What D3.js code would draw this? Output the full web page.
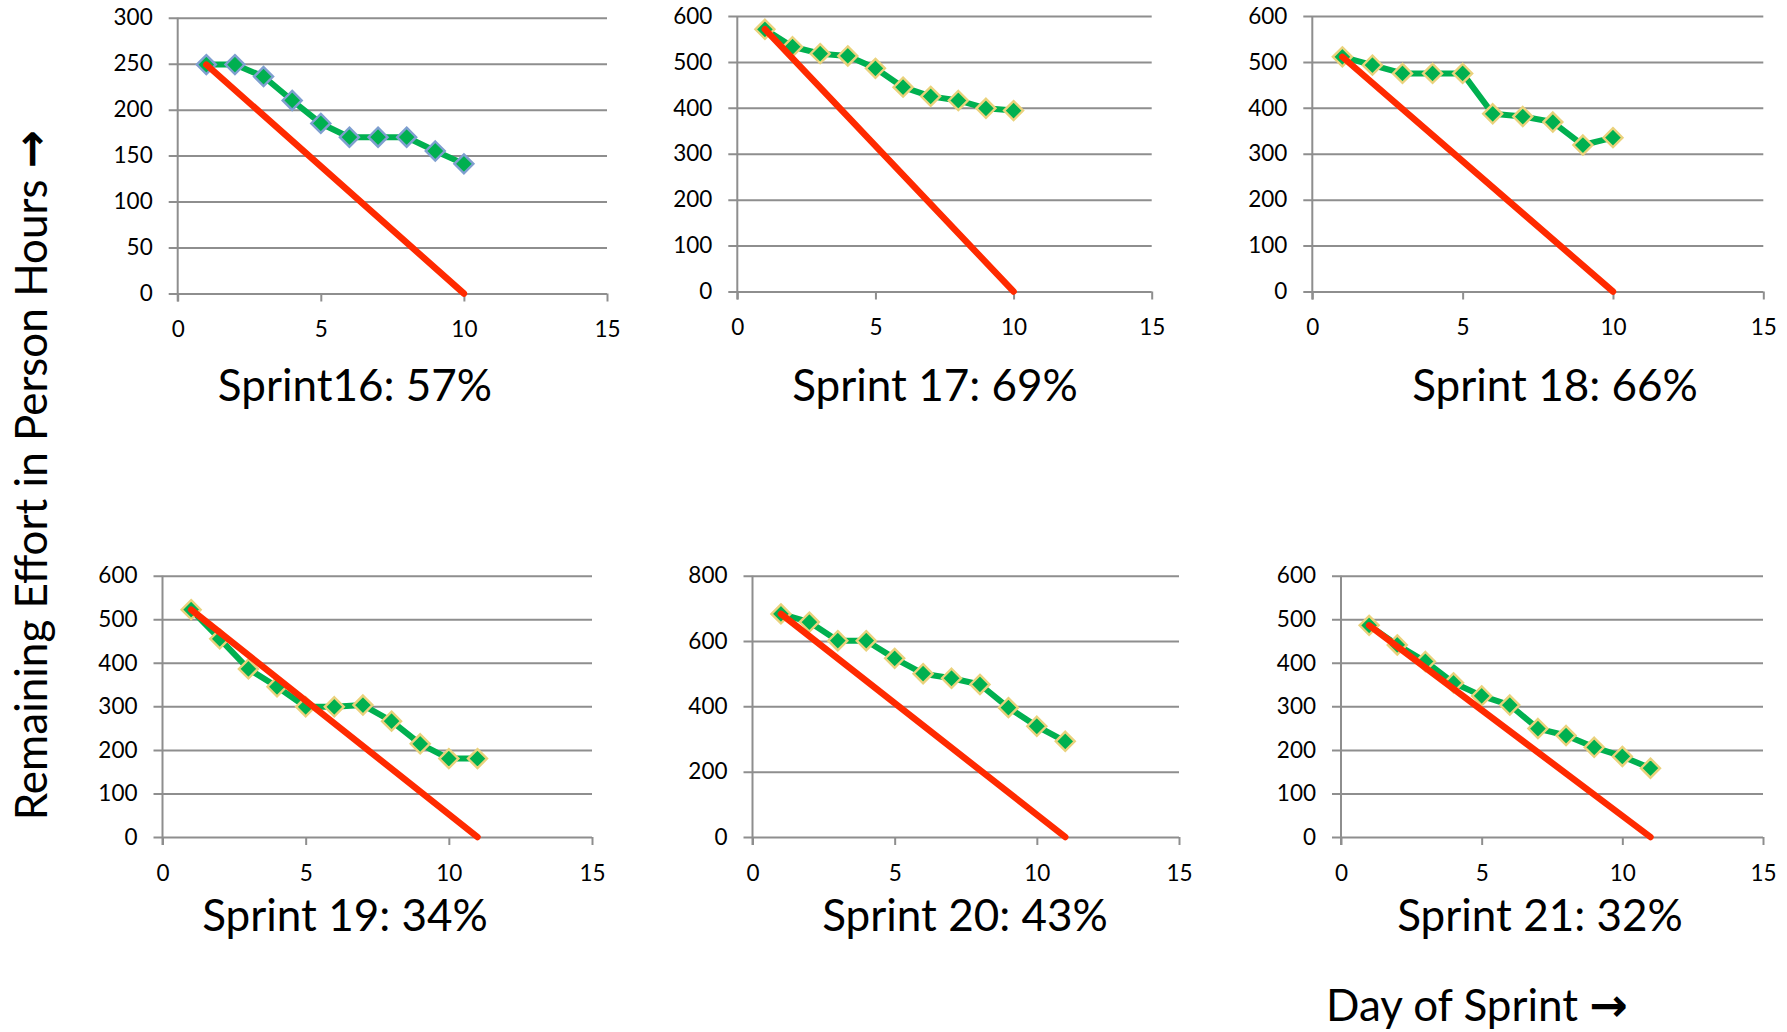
<!DOCTYPE html>
<html>
<head>
<meta charset="utf-8">
<script src="https://cdn.jsdelivr.net/npm/d3@7"></script>
<style>
  html, body { margin: 0; padding: 0; background: #ffffff; }
  svg { display: block; }
  text { font-family: Lato, "Open Sans", "Liberation Sans", sans-serif; fill: #000; }
</style>
</head>
<body>
<svg id="chart" width="1787" height="1032"></svg>
<script>
// ---- Sprint burndown data (remaining effort in person hours per day) ----
const sprintTitles = ["Sprint16: 57%", "Sprint 17: 69%", "Sprint 18: 66%",
                      "Sprint 19: 34%", "Sprint 20: 43%", "Sprint 21: 32%"];

const days10 = [1, 2, 3, 4, 5, 6, 7, 8, 9, 10];
const days11 = [1, 2, 3, 4, 5, 6, 7, 8, 9, 10, 11];

const actual16 = [249, 249, 236, 210, 185, 170, 170, 170, 155, 141];
const actual17 = [571, 533, 518, 513, 486, 445, 425, 416, 399, 394];
const actual18 = [511, 493, 475, 475, 475, 387, 381, 369, 319, 335];
const actual19 = [522, 455, 386, 345, 299, 299, 303, 266, 214, 180, 180];
const actual20 = [683, 658, 601, 601, 547, 500, 486, 467, 396, 339, 293];
const actual21 = [486, 441, 403, 354, 324, 303, 249, 233, 206, 185, 158];

// ideal burndown: straight line from the first day's effort down to zero
const idealDays10 = [1, 10];
const idealDays11 = [1, 11];
const ideal16 = [249, 0];
const ideal17 = [571, 0];
const ideal18 = [511, 0];
const ideal19 = [522, 0];
const ideal20 = [683, 0];
const ideal21 = [486, 0];

const yMaxes = [300, 600, 600, 600, 800, 600];
const ySteps = [50, 100, 100, 100, 200, 100];
const xTickValues = [0, 5, 10, 15];

const actualSeries = [actual16, actual17, actual18, actual19, actual20, actual21];
const actualDays = [days10, days10, days10, days11, days11, days11];
const idealSeries = [ideal16, ideal17, ideal18, ideal19, ideal20, ideal21];
const idealDays = [idealDays10, idealDays10, idealDays10, idealDays11, idealDays11, idealDays11];

// ---- Panel placement ----
const panels = [
  { x0: 177.7, x1: 607,    y0: 293.5, y1: 17.7,  tx: 355,  ty: 401, marker: "#7f9fd0" },
  { x0: 737.3, x1: 1151.7, y0: 291.5, y1: 16,    tx: 935,  ty: 401, marker: "#ead27c" },
  { x0: 1312.3,x1: 1763.3, y0: 291.5, y1: 16,    tx: 1555, ty: 401, marker: "#ead27c" },
  { x0: 162.5, x1: 592,    y0: 837,   y1: 575.7, tx: 345,  ty: 931, marker: "#ead27c" },
  { x0: 752.5, x1: 1179,   y0: 837,   y1: 575.7, tx: 965,  ty: 931, marker: "#ead27c" },
  { x0: 1341,  x1: 1763,   y0: 837,   y1: 575.7, tx: 1540, ty: 931, marker: "#ead27c" }
];

const GRID = "#8e8e8e";
const GREEN = "#00b050";
const RED = "#ff2a00";

const svg = d3.select("#chart");

panels.forEach((p, i) => {
  const x = d3.scaleLinear().domain([0, 15]).range([p.x0, p.x1]);
  const y = d3.scaleLinear().domain([0, yMaxes[i]]).range([p.y0, p.y1]);
  const yTicks = d3.range(0, yMaxes[i] + 1, ySteps[i]);
  const g = svg.append("g");

  // horizontal gridlines, extended left as outward ticks
  const yAxis = d3.axisLeft(y).tickValues(yTicks).tickSize(0).tickFormat(d3.format("d"));
  const ya = g.append("g").attr("transform", `translate(${p.x1},0)`).call(yAxis);
  ya.select(".domain").remove();
  ya.selectAll(".tick line").attr("stroke", GRID).attr("stroke-width", 2)
    .attr("x1", 0).attr("x2", -(p.x1 - p.x0) - 9);
  ya.selectAll(".tick text")
    .attr("x", -(p.x1 - p.x0) - 25)
    .attr("font-size", 22.5)
    .attr("fill", "#000");

  // vertical value axis line
  g.append("line")
    .attr("x1", p.x0).attr("x2", p.x0)
    .attr("y1", p.y1).attr("y2", p.y0 + 8)
    .attr("stroke", GRID).attr("stroke-width", 2);

  // x axis ticks and labels
  const xAxis = d3.axisBottom(x).tickValues(xTickValues).tickSize(8).tickPadding(20)
    .tickFormat(d3.format("d"));
  const xa = g.append("g").attr("transform", `translate(0,${p.y0})`).call(xAxis);
  xa.select(".domain").remove();
  xa.selectAll(".tick line").attr("stroke", GRID).attr("stroke-width", 2);
  xa.selectAll(".tick text").attr("font-size", 22.5).attr("fill", "#000");

  // actual remaining effort
  const pts = actualDays[i].map((d, k) => [d, actualSeries[i][k]]);
  const line = d3.line().x(d => x(d[0])).y(d => y(d[1]));
  g.append("path").datum(pts)
    .attr("d", line)
    .attr("fill", "none")
    .attr("stroke", GREEN)
    .attr("stroke-width", 6)
    .attr("stroke-linejoin", "round");

  const diamond = d3.symbol().type(d3.symbolDiamond2).size(230);
  g.selectAll(".marker").data(pts).enter().append("path")
    .attr("class", "marker")
    .attr("d", diamond)
    .attr("transform", d => `translate(${x(d[0])},${y(d[1])})`)
    .attr("fill", GREEN)
    .attr("stroke", p.marker)
    .attr("stroke-width", 2.4);

  // ideal burndown
  const ideal = idealDays[i].map((d, k) => [d, idealSeries[i][k]]);
  g.append("path").datum(ideal)
    .attr("d", line)
    .attr("fill", "none")
    .attr("stroke", RED)
    .attr("stroke-width", 6.5)
    .attr("stroke-linecap", "round");

  // panel title
  g.append("text")
    .attr("x", p.tx).attr("y", p.ty)
    .attr("text-anchor", "middle")
    .attr("font-size", 44)
    .text(sprintTitles[i]);
});

// shared axis titles
const yTitle = svg.append("text")
  .attr("transform", "translate(47,475) rotate(-90)")
  .attr("text-anchor", "middle")
  .attr("font-size", 44);
yTitle.append("tspan").text("Remaining Effort in Person Hours ");
yTitle.append("tspan").attr("font-family", "DejaVu Sans").attr("font-weight", "bold")
  .attr("font-size", 46).text("\u2192");

const xTitle = svg.append("text")
  .attr("x", 1477).attr("y", 1021)
  .attr("text-anchor", "middle")
  .attr("font-size", 44);
xTitle.append("tspan").text("Day of Sprint ");
xTitle.append("tspan").attr("font-family", "DejaVu Sans").attr("font-weight", "bold")
  .attr("font-size", 46).text("\u2192");
</script>
</body>
</html>
